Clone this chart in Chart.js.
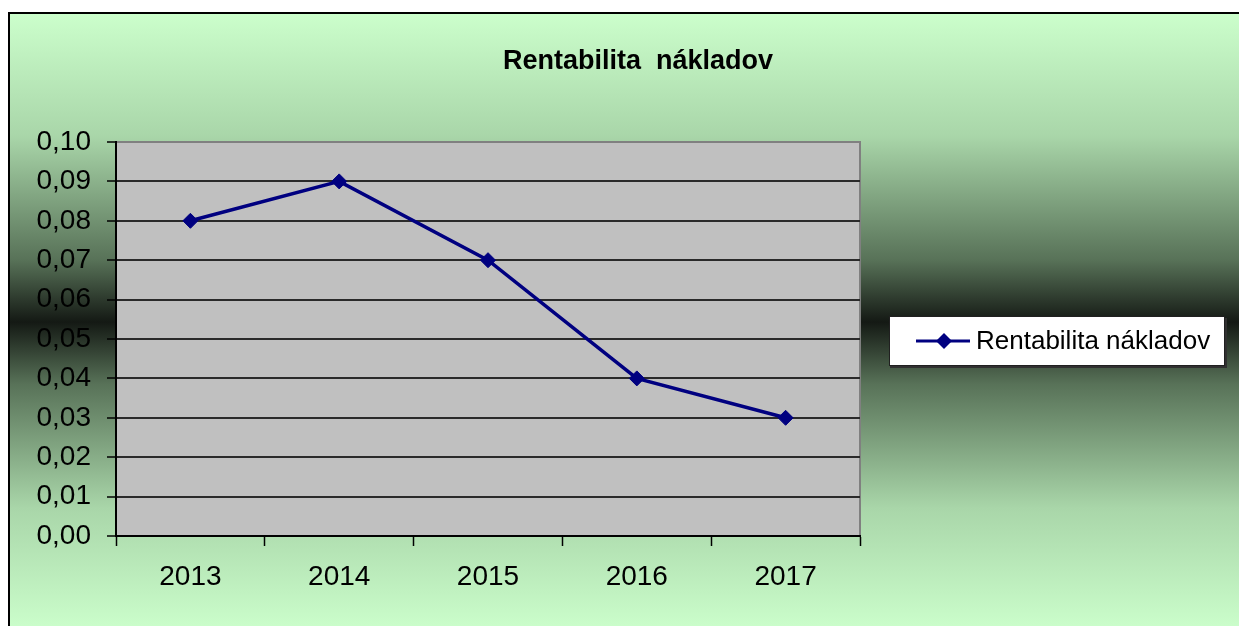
<!DOCTYPE html>
<html>
<head>
<meta charset="utf-8">
<script src="https://cdn.jsdelivr.net/npm/chart.js@4"></script>
<style>
  html, body { margin: 0; padding: 0; background: #fff; }
  #wrap { width: 1239px; height: 626px; }
</style>
</head>
<body>
<div id="wrap"><canvas id="rentChart" width="1239" height="626"></canvas></div>
<script>
const years = ['2013', '2014', '2015', '2016', '2017'];
const rentabilita = [0.08, 0.09, 0.07, 0.04, 0.03];
const seriesName = 'Rentabilita nákladov';
const chartTitle = 'Rentabilita  nákladov';

const NAVY = '#000080';

// use the narrow face if it is installed (the original text is tall and narrow)
const probe = document.createElement('canvas').getContext('2d');
probe.font = "30px 'Liberation Sans'";
const wideW = probe.measureText(seriesName).width;
probe.font = "30px 'Liberation Sans Narrow', 'Liberation Sans'";
const narrowW = probe.measureText(seriesName).width;
const hasNarrow = narrowW < wideW * 0.95;
const FONT = hasNarrow ? "'Liberation Sans Narrow', 'Liberation Sans', Arial, sans-serif"
                       : "'Liberation Sans', Arial, sans-serif";
const tickSize = hasNarrow ? 33 : 28;
const titleSize = hasNarrow ? 32 : 27;
const legendSize = hasNarrow ? 31 : 26;

// background, plot area, title and boxed legend
const excelLook = {
  id: 'excelLook',
  beforeDraw(chart) {
    const ctx = chart.ctx;
    const a = chart.chartArea;
    ctx.save();
    ctx.fillStyle = '#fff';
    ctx.fillRect(0, 0, chart.width, chart.height);

    const g = ctx.createLinearGradient(0, 12, 0, 632);
    g.addColorStop(0, '#CCFFCC');
    g.addColorStop(0.2, '#A9D6A9');
    g.addColorStop(0.4, '#587258');
    g.addColorStop(0.5, '#141914');
    g.addColorStop(0.6, '#587258');
    g.addColorStop(0.8, '#A9D6A9');
    g.addColorStop(1, '#CCFFCC');
    ctx.fillStyle = g;
    ctx.fillRect(8, 12, chart.width - 8, chart.height - 12);
    ctx.strokeStyle = '#000';
    ctx.lineWidth = 2;
    ctx.beginPath();
    ctx.moveTo(9, chart.height);
    ctx.lineTo(9, 13);
    ctx.lineTo(chart.width, 13);
    ctx.stroke();

    ctx.fillStyle = '#C0C0C0';
    ctx.fillRect(a.left, a.top, a.right - a.left, a.bottom - a.top);
    ctx.strokeStyle = '#808080';
    ctx.lineWidth = 2;
    ctx.beginPath();
    ctx.moveTo(a.left, a.top);
    ctx.lineTo(a.right, a.top);
    ctx.lineTo(a.right, a.bottom);
    ctx.stroke();

    ctx.fillStyle = '#000';
    ctx.font = 'bold ' + titleSize + 'px ' + FONT;
    ctx.textAlign = 'center';
    ctx.textBaseline = 'middle';
    ctx.fillText(chartTitle, 638, 62);
    ctx.restore();
  },
  afterDraw(chart) {
    const ctx = chart.ctx;
    const ds = chart.data.datasets[0];
    ctx.save();
    ctx.fillStyle = '#303030';
    ctx.fillRect(890, 318, 337, 50);
    ctx.fillStyle = '#fff';
    ctx.fillRect(889, 316, 336, 50);
    ctx.strokeStyle = '#202020';
    ctx.lineWidth = 1;
    ctx.strokeRect(889.5, 316.5, 335, 49);

    ctx.strokeStyle = ds.borderColor;
    ctx.lineWidth = 3;
    ctx.beginPath();
    ctx.moveTo(916, 341);
    ctx.lineTo(970, 341);
    ctx.stroke();
    ctx.fillStyle = ds.pointBackgroundColor;
    ctx.beginPath();
    ctx.moveTo(944, 333);
    ctx.lineTo(952, 341);
    ctx.lineTo(944, 349);
    ctx.lineTo(936, 341);
    ctx.closePath();
    ctx.fill();

    ctx.fillStyle = '#000';
    ctx.font = legendSize + 'px ' + FONT;
    ctx.textAlign = 'left';
    ctx.textBaseline = 'middle';
    ctx.fillText(ds.label, 976, 342);
    ctx.restore();
  }
};

const ctx = document.getElementById('rentChart').getContext('2d');
new Chart(ctx, {
  type: 'line',
  data: {
    labels: years,
    datasets: [{
      label: seriesName,
      data: rentabilita,
      borderColor: NAVY,
      borderWidth: 3.5,
      pointStyle: 'rectRot',
      pointRadius: 7.5,
      pointBorderWidth: 1,
      pointBackgroundColor: NAVY,
      pointBorderColor: NAVY,
      tension: 0
    }]
  },
  options: {
    responsive: false,
    animation: false,
    layout: { padding: { top: 142, left: 0, right: 379, bottom: 0 } },
    plugins: {
      legend: { display: false },
      title: { display: false },
      tooltip: { enabled: false }
    },
    scales: {
      x: {
        offset: true,
        afterFit(scale) { scale.height = 90; },
        grid: {
          offset: true,
          drawOnChartArea: false,
          drawTicks: true,
          tickLength: 10,
          tickColor: '#000',
          tickWidth: 1.5
        },
        border: { color: '#000', width: 2 },
        ticks: {
          color: '#000',
          padding: 14,
          font: { family: FONT, size: tickSize }
        }
      },
      y: {
        min: 0,
        max: 0.1,
        afterFit(scale) { scale.width = 116; },
        grid: {
          color: (c) => c.tick && c.tick.value >= 0.1 ? '#808080' : '#2a2a2a',
          lineWidth: 2,
          tickLength: 9,
          tickColor: '#000',
          tickWidth: 1.5
        },
        border: { color: '#000', width: 2 },
        ticks: {
          stepSize: 0.01,
          color: '#000',
          padding: 16,
          font: { family: FONT, size: tickSize },
          callback: (v) => v.toFixed(2).replace('.', ',')
        }
      }
    }
  },
  plugins: [excelLook]
});
</script>
</body>
</html>
